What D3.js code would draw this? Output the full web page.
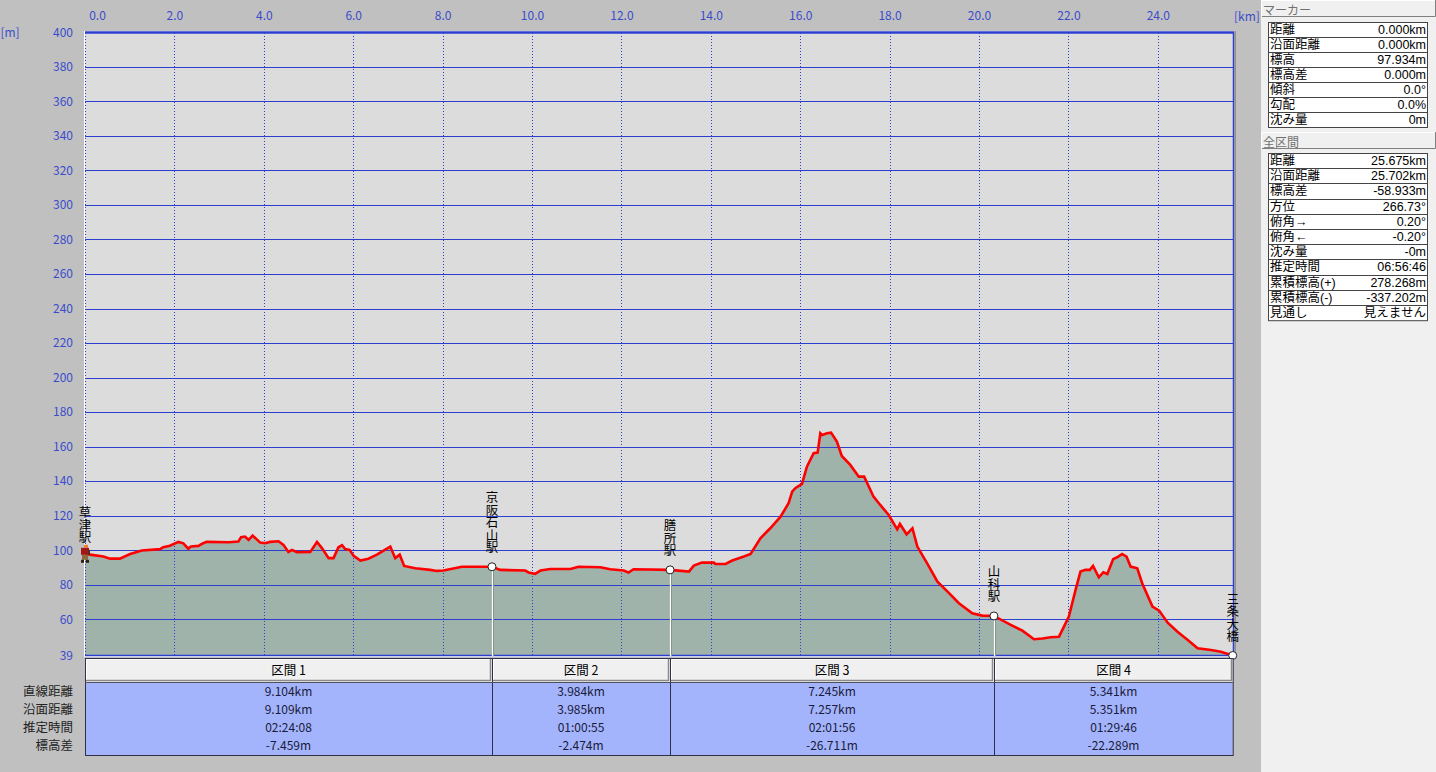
<!DOCTYPE html>
<html><head><meta charset="utf-8">
<script src="https://cdn.jsdelivr.net/npm/d3@7"></script>
<style>
html,body{margin:0;padding:0;background:#c0c0c0;overflow:hidden;}
svg text{font-family:"Noto Sans CJK JP","Noto Sans",sans-serif;}
svg text.pt{font-family:"Liberation Sans","Noto Sans CJK JP",sans-serif;}
.vt{writing-mode:vertical-rl;text-orientation:upright;}
</style></head>
<body><svg id="c" width="1436" height="772"></svg>
<script>
// ---- data ----
const distKm = [0.00,0.15,0.41,0.56,0.78,1.01,1.27,1.68,1.75,1.90,2.09,2.20,2.31,2.37,2.54,2.61,2.72,3.21,3.43,3.49,3.58,3.66,3.75,3.92,4.03,4.14,4.33,4.44,4.55,4.63,4.74,5.04,5.19,5.30,5.45,5.56,5.67,5.75,5.82,5.92,6.01,6.16,6.34,6.53,6.68,6.83,6.94,7.04,7.14,7.39,7.72,7.87,8.02,8.43,9.104,9.29,9.85,9.92,10.07,10.19,10.41,10.86,11.04,11.53,11.75,12.05,12.16,12.27,13.088,13.51,13.62,13.80,14.07,14.10,14.33,14.48,14.74,14.89,15.11,15.33,15.56,15.74,15.82,15.89,16.04,16.15,16.30,16.39,16.45,16.49,16.60,16.69,16.82,16.93,17.12,17.31,17.43,17.64,17.79,17.98,18.17,18.23,18.38,18.51,18.62,18.84,19.07,19.33,19.55,19.85,20.07,20.333,20.71,20.97,21.23,21.42,21.60,21.79,22.01,22.16,22.27,22.38,22.48,22.55,22.68,22.78,22.87,23.00,23.09,23.20,23.30,23.39,23.54,23.65,23.88,24.03,24.22,24.44,24.67,24.89,25.19,25.41,25.675];
const elevM = [97.9,97.3,96.3,95.1,95.1,97.8,99.8,100.6,101.7,102.6,104.8,104.0,100.9,102.1,102.5,103.6,104.8,104.6,105.0,107.5,107.9,106.0,108.5,104.4,104.0,104.8,105.2,103.1,99.0,100.2,98.8,99.0,104.8,101.2,95.4,95.4,101.7,102.9,100.6,100.2,96.7,94.0,95.1,97.4,99.8,102.1,95.4,97.4,90.9,89.5,88.6,88.0,88.2,90.4,90.4,88.6,88.2,87.1,86.3,88.2,89.1,89.1,90.4,90.1,89.0,88.2,87.1,89.0,88.6,87.6,91.1,92.8,92.8,92.0,92.0,94.0,96.3,97.8,106.9,112.7,119.4,127.2,133.9,135.9,138.4,148.4,156.2,156.5,167.7,166.7,167.7,168.1,162.9,154.6,149.4,142.6,142.6,131.0,126.2,120.4,112.1,115.2,109.2,112.7,102.1,92.4,81.8,75.1,69.3,63.5,62.1,61.9,56.7,53.4,48.4,48.8,49.6,49.9,61.5,77.0,87.6,88.6,88.6,90.9,84.3,87.2,86.2,94.8,95.9,97.8,96.3,90.5,89.5,80.9,67.3,65.0,58.0,52.8,48.0,43.2,42.2,41.2,39.0];

const stationNames = ["草津駅","京阪石山駅","膳所駅","山科駅","三条大橋"];
const stationKm = [0, 9.104, 13.088, 20.333, 25.675];
const stationElev = [97.9, 90.4, 88.6, 61.9, 39.0];

const xTicks = [0,2,4,6,8,10,12,14,16,18,20,22,24];
const yTicks = [60,80,100,120,140,160,180,200,220,240,260,280,300,320,340,360,380,400];
const yMin = 39, yMax = 400, xMax = 25.675;

const sectionNames = ["区間 1","区間 2","区間 3","区間 4"];
const rowLabels = ["直線距離","沿面距離","推定時間","標高差"];
const secStraight = ["9.104km","3.984km","7.245km","5.341km"];
const secSurface = ["9.109km","3.985km","7.257km","5.351km"];
const secTime = ["02:24:08","01:00:55","02:01:56","01:29:46"];
const secDiff = ["-7.459m","-2.474m","-26.711m","-22.289m"];

const markerLabels = ["距離","沿面距離","標高","標高差","傾斜","勾配","沈み量"];
const markerValues = ["0.000km","0.000km","97.934m","0.000m","0.0°","0.0%","0m"];
const totalLabels = ["距離","沿面距離","標高差","方位","俯角→","俯角←","沈み量","推定時間","累積標高(+)","累積標高(-)","見通し"];
const totalValues = ["25.675km","25.702km","-58.933m","266.73°","0.20°","-0.20°","-0m","06:56:46","278.268m","-337.202m","見えません"];

// ---- drawing ----
const svg = d3.select("#c");
const L = 85, R = 1232.7, T = 32.3, B = 655.5;
const x = d3.scaleLinear().domain([0, xMax]).range([L, R]);
const y = d3.scaleLinear().domain([yMin, yMax]).range([B, T]);
const blue = "#2c3fd0", tick = "#3a4ccc";
const pts = distKm.map((d,i)=>[d, elevM[i]]);

// plot background
svg.append("rect").attr("x",84).attr("y",31).attr("width",1151).attr("height",626).attr("fill","#fff");
svg.append("rect").attr("x",85).attr("y",32).attr("width",1149).attr("height",624).attr("fill","#dcdcdc");

// area
const area = d3.area().x(d=>x(d[0])).y0(y(yMin)).y1(d=>y(d[1]));
svg.append("path").datum(pts).attr("d",area).attr("fill","#a0b3ab");

// horizontal grid
svg.append("g").selectAll("line").data(yTicks).join("line")
  .attr("x1",85).attr("x2",1234)
  .attr("y1",d=>Math.round(y(d))+0.5).attr("y2",d=>Math.round(y(d))+0.5)
  .attr("stroke",blue).attr("stroke-width",d=>d===yMax?2.5:1.2);
// vertical dotted grid
svg.append("g").selectAll("line").data(xTicks).join("line")
  .attr("x1",d=>Math.round(x(d))+0.5).attr("x2",d=>Math.round(x(d))+0.5)
  .attr("y1",33).attr("y2",655)
  .attr("stroke",blue).attr("stroke-width",1).attr("stroke-dasharray","1,2");
// borders
svg.append("line").attr("x1",85).attr("x2",1234).attr("y1",655.5).attr("y2",655.5).attr("stroke",blue).attr("stroke-width",1.5);
svg.append("line").attr("x1",1233.5).attr("x2",1233.5).attr("y1",32).attr("y2",656).attr("stroke",blue).attr("stroke-width",1.5);
svg.append("line").attr("x1",1235).attr("x2",1235).attr("y1",31).attr("y2",657).attr("stroke","#606060").attr("stroke-width",1);

// axis labels
const xAxis = d3.axisTop(x).tickValues(xTicks).tickFormat(d=>d.toFixed(1)).tickSize(0);
const gx = svg.append("g").attr("transform","translate(0,22)").call(xAxis);
gx.select(".domain").remove();
gx.selectAll("text").attr("fill",tick).attr("font-size",12).attr("dy","0.1em")
  .attr("dx",d=>d===0?12:0);
svg.append("text").attr("x",1247).attr("y",21).attr("text-anchor","middle").attr("fill",tick).attr("font-size",12).text("[km]");

const yAxis = d3.axisLeft(y).tickValues([yMin].concat(yTicks)).tickFormat(d3.format("d")).tickSize(0);
const gy = svg.append("g").attr("transform","translate(73,0)").call(yAxis);
gy.select(".domain").remove();
gy.selectAll("text").attr("fill",tick).attr("font-size",12).attr("x",0);
svg.append("text").attr("x",10).attr("y",37).attr("text-anchor","middle").attr("fill",tick).attr("font-size",12).text("[m]");

// red profile line
const line = d3.line().x(d=>x(d[0])).y(d=>y(d[1]));
svg.append("path").datum(pts).attr("d",line).attr("fill","none").attr("stroke","#ff0000").attr("stroke-width",2.6).attr("stroke-linejoin","miter");

// station verticals + markers
stationKm.forEach((k,i)=>{
  const sx = x(k), sy = y(stationElev[i]);
  if(i>0 && i<stationKm.length-1){
    svg.append("line").attr("x1",Math.round(sx)+1.5).attr("x2",Math.round(sx)+1.5).attr("y1",sy).attr("y2",656).attr("stroke","#7a8a84").attr("stroke-width",1);
    svg.append("line").attr("x1",Math.round(sx)+0.5).attr("x2",Math.round(sx)+0.5).attr("y1",sy).attr("y2",656).attr("stroke","#fff").attr("stroke-width",1.2);
  }
  if(i>0){
    svg.append("circle").attr("cx",sx).attr("cy",sy).attr("r",4).attr("fill","#fff").attr("stroke","#222").attr("stroke-width",1);
  }
  const bottom = (i===0 ? sy - 10 : sy - 13);
  svg.append("text").attr("class","vt").attr("x",sx).attr("y",bottom)
    .attr("text-anchor","end").attr("font-size",12.5).attr("fill","#000").text(stationNames[i]);
});
// hiker icon at start
(function(){
  const hx = x(stationKm[0]), hy = y(stationElev[0]);
  const g = svg.append("g").attr("transform",`translate(${hx},${hy})`);
  g.append("rect").attr("x",-1).attr("y",-9).attr("width",4).attr("height",3).attr("fill","#f08030");
  g.append("rect").attr("x",-4).attr("y",-6).attr("width",8).attr("height",7).attr("fill","#a01818");
  g.append("rect").attr("x",3).attr("y",-4).attr("width",2).attr("height",5).attr("fill","#503020");
  g.append("rect").attr("x",-3).attr("y",1).attr("width",6).attr("height",5).attr("fill","#8a6a40");
  g.append("rect").attr("x",-4).attr("y",6).attr("width",3).attr("height",3).attr("fill","#302010");
  g.append("rect").attr("x",1).attr("y",6).attr("width",3).attr("height",3).attr("fill","#302010");
})();

// ---- bottom section table ----
const colEdges = stationKm.map(k=>x(k));
const tTop = 658, hH = 24, dTop = 682, dBot = 755;
svg.append("rect").attr("x",85).attr("y",dTop).attr("width",x(xMax)-85).attr("height",dBot-dTop).attr("fill","#a3b4fc");
sectionNames.forEach((n,i)=>{
  const x0 = Math.round(colEdges[i]), x1 = Math.round(colEdges[i+1]);
  svg.append("rect").attr("x",x0).attr("y",tTop).attr("width",x1-x0).attr("height",hH).attr("fill","#f0f0f0");
  svg.append("path").attr("d",`M${x0+1.5},${tTop+hH-1} V${tTop+1.5} H${x1-1}`).attr("stroke","#fff").attr("fill","none");
  svg.append("path").attr("d",`M${x0+1},${tTop+hH-1.5} H${x1-1.5} V${tTop+1}`).attr("stroke","#8a8a8a").attr("fill","none").attr("stroke-width",1.5);
  const cx = (x0+x1)/2;
  svg.append("text").attr("x",cx).attr("y",675).attr("text-anchor","middle").attr("font-size",12.5).attr("fill","#000").text(n);
  [secStraight[i],secSurface[i],secTime[i],secDiff[i]].forEach((v,j)=>{
    svg.append("text").attr("x",cx).attr("y",696+j*18).attr("text-anchor","middle").attr("font-size",12).attr("fill","#1a1a3a").text(v);
  });
  if(i>0){
    svg.append("line").attr("x1",x0+0.5).attr("x2",x0+0.5).attr("y1",tTop).attr("y2",dBot).attr("stroke","#303048");
  }
});
svg.append("rect").attr("x",85.5).attr("y",tTop+0.5).attr("width",x(xMax)-85).attr("height",dBot-tTop).attr("fill","none").attr("stroke","#303048");
svg.append("line").attr("x1",85).attr("x2",x(xMax)).attr("y1",dTop+0.5).attr("y2",dTop+0.5).attr("stroke","#505060");
rowLabels.forEach((r,j)=>{
  svg.append("text").attr("x",73).attr("y",696+j*18).attr("text-anchor","end").attr("font-size",12.5).attr("fill","#222").text(r);
});

// ---- right panel ----
svg.append("rect").attr("x",1261).attr("y",0).attr("width",175).attr("height",772).attr("fill","#f0f0f0");
function header(label, y0){
  svg.append("rect").attr("x",1261).attr("y",y0).attr("width",174).attr("height",17).attr("fill","#f0f0f0");
  svg.append("path").attr("d",`M1261.5,${y0+17} V${y0+0.5} H1435`).attr("stroke","#fff").attr("fill","none");
  svg.append("path").attr("d",`M1262,${y0+16.5} H1435.5 V${y0}`).attr("stroke","#808080").attr("fill","none");
  svg.append("text").attr("x",1263).attr("y",y0+14.5).attr("font-size",12).attr("fill","#707070").text(label);
}
function table(labels, values, y0, rh){
  svg.append("rect").attr("x",1268.5).attr("y",y0+0.5).attr("width",159).attr("height",labels.length*rh).attr("fill","#fff").attr("stroke","#444");
  labels.forEach((l,i)=>{
    const yy = y0 + i*rh;
    if(i>0) svg.append("line").attr("x1",1268.5).attr("x2",1427.5).attr("y1",Math.round(yy)+0.5).attr("y2",Math.round(yy)+0.5).attr("stroke","#444");
    svg.append("text").attr("class","pt").attr("x",1270).attr("y",yy+12).attr("font-size",12.5).attr("fill","#000").text(l);
    svg.append("text").attr("class","pt").attr("x",1426).attr("y",yy+12).attr("text-anchor","end").attr("font-size",12.5).attr("fill","#000").text(values[i]);
  });
}
header("マーカー", 0);
table(markerLabels, markerValues, 22, 15);
header("全区間", 132);
table(totalLabels, totalValues, 153, 15.2);
</script></body></html>
